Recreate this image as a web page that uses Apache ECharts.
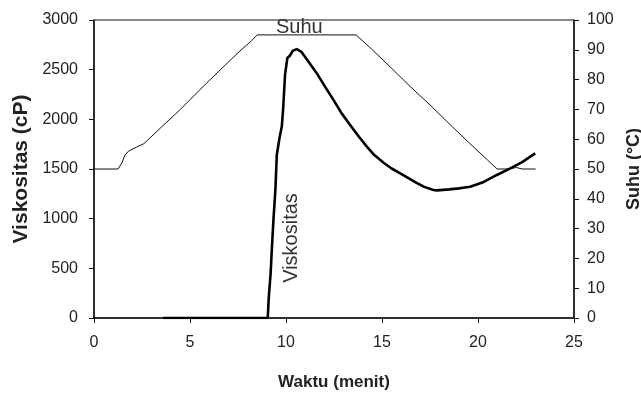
<!DOCTYPE html>
<html>
<head>
<meta charset="utf-8">
<script src="https://cdn.jsdelivr.net/npm/echarts@6/dist/echarts.min.js"></script>
<style>html,body{margin:0;padding:0;background:#fff}#c{width:641px;height:393px}</style>
</head>
<body>
<div id="c"></div>
<script>
// Time (menit) and temperature (Suhu, °C)
var suhuTime = [0, 1.25, 1.45, 1.6, 1.8, 2.2, 2.6, 3.5, 4.5, 5.5, 6.5, 7.5, 8.2, 8.5, 13.65, 14.5, 15.5, 16.5, 17.5, 18.5, 19.5, 20.5, 21, 21.6, 22, 22.3, 23];
var suhuVal  = [50, 50, 52, 54.5, 56, 57.3, 58.5, 64, 70, 76.5, 82.8, 89, 93, 95, 95, 90, 83.8, 77.5, 71.5, 65.2, 59, 53, 50, 50, 50.5, 50, 50];
// Time (menit) and viscosity (Viskositas, cP)
var viskTime = [3.6, 9.05, 9.1, 9.2, 9.26, 9.35, 9.45, 9.52, 9.65, 9.78, 9.85, 9.95, 10.07, 10.2, 10.35, 10.56, 10.8, 11.1, 11.6, 12, 12.47, 12.9, 13.34, 13.8, 14.21, 14.6, 15.1, 15.5, 15.95, 16.4, 16.8, 17.2, 17.68, 17.86, 18.5, 19.0, 19.59, 20.3, 20.98, 21.68, 22.3, 22.98];
var viskVal  = [0, 0, 200, 450, 683, 1000, 1300, 1641, 1800, 1927, 2100, 2450, 2617, 2640, 2690, 2707, 2680, 2600, 2465, 2340, 2196, 2060, 1944, 1825, 1725, 1640, 1560, 1505, 1457, 1405, 1360, 1320, 1288, 1285, 1295, 1305, 1321, 1370, 1440, 1507, 1570, 1658];

var suhuTicks = [0, 10, 20, 30, 40, 50, 60, 70, 80, 90, 100];
var viskTicks = [0, 500, 1000, 1500, 2000, 2500, 3000];
var waktuTicks = [0, 5, 10, 15, 20, 25];

function pairs(xs, ys) { return xs.map(function (x, i) { return [x, ys[i]]; }); }

var FONT = '"Liberation Sans", Arial, sans-serif';
var TXT = '#222';
var chart = echarts.init(document.getElementById('c'), null, {renderer: 'canvas'});
chart.setOption({
  animation: false,
  grid: {left: 94, right: 67, top: 20, bottom: 75, outerBoundsMode: 'none', containLabel: false,
         show: true, borderColor: '#111', borderWidth: 1, backgroundColor: 'transparent'},
  xAxis: {
    type: 'value', min: waktuTicks[0], max: waktuTicks[waktuTicks.length - 1], interval: 5,
    name: 'Waktu (menit)', nameLocation: 'middle', nameGap: 56,
    nameTextStyle: {fontFamily: FONT, fontSize: 17, fontWeight: 'bold', color: TXT},
    axisLine: {show: true, onZero: false, lineStyle: {color: '#111', width: 1.5}},
    axisTick: {show: true, inside: false, length: 5, lineStyle: {color: '#111'}},
    axisLabel: {margin: 17, fontFamily: FONT, fontSize: 16, color: TXT, formatter: function (v) { return String(v); }},
    splitLine: {show: false}
  },
  yAxis: [{
    type: 'value', min: viskTicks[0], max: viskTicks[viskTicks.length - 1], interval: 500, position: 'left',
    name: 'Viskositas (cP)', nameLocation: 'middle', nameGap: 61, nameRotate: 90,
    nameTextStyle: {fontFamily: FONT, fontSize: 21, fontWeight: 'bold', color: TXT},
    axisLine: {show: true, lineStyle: {color: '#111', width: 1.5}},
    axisTick: {show: true, inside: false, length: 5, lineStyle: {color: '#111'}},
    axisLabel: {margin: 16, fontFamily: FONT, fontSize: 16, color: TXT, formatter: function (v) { return String(v); }},
    splitLine: {show: false}
  }, {
    type: 'value', min: suhuTicks[0], max: suhuTicks[suhuTicks.length - 1], interval: 10, position: 'right',
    name: 'Suhu (°C)', nameLocation: 'middle', nameGap: 45, nameRotate: 90,
    nameTextStyle: {fontFamily: FONT, fontSize: 18, fontWeight: 'bold', color: TXT},
    axisLine: {show: true, lineStyle: {color: '#111', width: 1.5}},
    axisTick: {show: true, inside: false, length: 5, lineStyle: {color: '#111'}},
    axisLabel: {margin: 13, fontFamily: FONT, fontSize: 16, color: TXT, formatter: function (v) { return String(v); }},
    splitLine: {show: false}
  }],
  series: [{
    name: 'Suhu', type: 'line', yAxisIndex: 1, data: pairs(suhuTime, suhuVal),
    showSymbol: false, symbol: 'none', lineStyle: {color: '#111', width: 1}
  }, {
    name: 'Viskositas', type: 'line', yAxisIndex: 0, data: pairs(viskTime, viskVal),
    showSymbol: false, symbol: 'none', lineStyle: {color: '#000', width: 2.6, join: 'round'}
  }],
  graphic: [{
    type: 'text', left: 276, top: 17,
    style: {text: 'Suhu', font: '20px ' + FONT, fill: '#333'}
  }, {
    type: 'text', x: 291.5, y: 238, rotation: Math.PI / 2,
    style: {text: 'Viskositas', font: '20px ' + FONT, fill: '#333', align: 'center', verticalAlign: 'middle'}
  }]
});
</script>
</body>
</html>
